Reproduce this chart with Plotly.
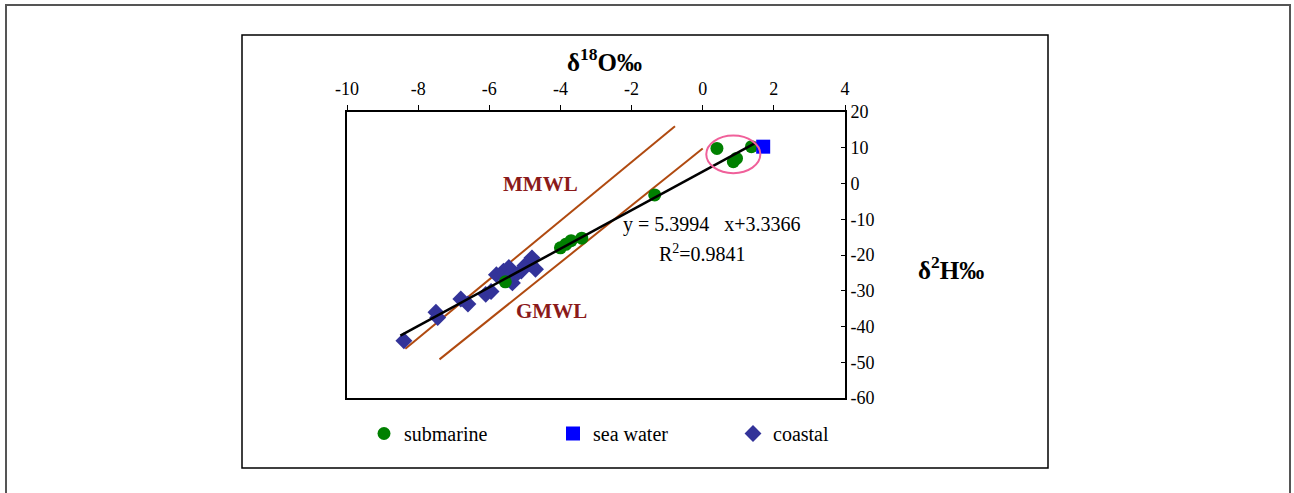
import plotly.graph_objects as go

# ---- data ----
submarine_x = [-5.55, -4.0, -3.85, -3.7, -3.4, -1.35, 0.4, 0.86, 0.95, 1.37]
submarine_y = [-27.5, -18.0, -17.0, -16.0, -15.3, -3.2, 9.8, 6.1, 7.0, 10.3]

seawater_x = [1.70]
seawater_y = [10.3]

coastal_x = [-8.4, -7.5, -7.45, -6.8, -6.6, -6.1, -5.95, -5.8, -5.6, -5.45, -5.35,
             -5.25, -5.1, -5.0, -4.85, -4.8, -4.7, -5.5]
coastal_y = [-44.0, -36.0, -37.5, -32.3, -33.7, -31.0, -30.2, -25.5, -24.5, -23.5, -27.8,
             -25.5, -24.5, -23.0, -22.5, -20.8, -24.0, -26.5]

reg_slope, reg_intercept = 5.3994, 3.3366
reg_x = [-8.5, 1.5]
reg_y = [reg_slope * v + reg_intercept for v in reg_x]

mmwl_x = [-8.36, -0.78]
mmwl_y = [-46.2, 16.0]
gmwl_x = [-7.4, 0.0]
gmwl_y = [-49.2, 9.8]

x_ticks = [-10, -8, -6, -4, -2, 0, 2, 4]
x_ticktext = ["-10", "-8", "-6", "-4", "-2", "0", "2", "4"]
y_ticks = [20, 10, 0, -10, -20, -30, -40, -50, -60]
y_ticktext = ["20", "10", "0", "-10", "-20", "-30", "-40", "-50", "-60"]

# ---- layout geometry (pixels) ----
W, H = 1294, 493
L, R, T, B = 347, 845, 112, 398


def px(x):
    return (x - L) / (R - L)


def py(y):
    return (B - y) / (B - T)


FONT = "Liberation Serif, Times New Roman, serif"
LINE_C = "#B04A10"
LBL_C = "#8B1A1A"

fig = go.Figure()

fig.add_trace(go.Scatter(x=mmwl_x, y=mmwl_y, mode="lines", line=dict(color=LINE_C, width=2),
                         showlegend=False, hoverinfo="skip"))
fig.add_trace(go.Scatter(x=gmwl_x, y=gmwl_y, mode="lines", line=dict(color=LINE_C, width=2),
                         showlegend=False, hoverinfo="skip"))

fig.add_trace(go.Scatter(x=coastal_x, y=coastal_y, mode="markers", name="coastal", legend="legend3",
                         marker=dict(symbol="diamond", size=13, color="#333399")))
fig.add_trace(go.Scatter(x=submarine_x, y=submarine_y, mode="markers", name="submarine", legend="legend",
                         marker=dict(symbol="circle", size=13, color="#008000")))
fig.add_trace(go.Scatter(x=seawater_x, y=seawater_y, mode="markers", name="sea water", legend="legend2",
                         marker=dict(symbol="square", size=14, color="#0000FF")))
fig.add_trace(go.Scatter(x=reg_x, y=reg_y, mode="lines", line=dict(color="black", width=2.5),
                         showlegend=False, hoverinfo="skip"))

# circle around the sea-water-like samples
fig.add_shape(type="circle", xref="x", yref="y", x0=0.1, x1=1.62, y0=2.9, y1=13.4,
              line=dict(color="#F0609A", width=2))

LEG_FONT = dict(family=FONT, size=20, color="black")


def leg(xpix):
    return dict(orientation="h", x=px(xpix), y=py(414), xanchor="left", yanchor="top",
                font=LEG_FONT, bgcolor="rgba(0,0,0,0)")


fig.update_layout(
    width=W, height=H,
    margin=dict(l=L, r=W - R, t=T, b=H - B, autoexpand=False),
    paper_bgcolor="white", plot_bgcolor="white",
    font=dict(family=FONT, size=18, color="black"),
    legend=leg(364), legend2=leg(553), legend3=leg(733),
    xaxis=dict(side="top", range=[-10, 4], tickvals=x_ticks, ticktext=x_ticktext,
               ticks="outside", ticklen=5, ticklabelstandoff=3,
               showline=True, linecolor="black", linewidth=2, mirror=True, showgrid=False,
               zeroline=False, tickfont=dict(family=FONT, size=18), tickcolor="black"),
    yaxis=dict(side="right", range=[-60, 20], tickvals=y_ticks, ticktext=y_ticktext,
               ticks="inside", ticklen=4,
               showline=True, linecolor="black", linewidth=2, mirror=True, showgrid=False,
               zeroline=False, tickfont=dict(family=FONT, size=18), tickcolor="black"),
    showlegend=True,
)

annots = [
    dict(x=px(604), y=py(60), text="<b>δ<sup>18</sup>O‰</b>", size=25, color="black"),
    dict(x=px(951), y=py(268), text="<b>δ<sup>2</sup>H‰</b>", size=25, color="black"),
    dict(x=px(540), y=py(184), text="<b>MMWL</b>", size=21, color=LBL_C),
    dict(x=px(551), y=py(311), text="<b>GMWL</b>", size=21, color=LBL_C),
    dict(x=px(712), y=py(224), text="y = 5.3994   x+3.3366", size=20, color="black"),
    dict(x=px(702), y=py(253), text="R<sup>2</sup>=0.9841", size=20, color="black"),
]
for a in annots:
    fig.add_annotation(x=a["x"], y=a["y"], xref="paper", yref="paper", text=a["text"],
                       showarrow=False, font=dict(family=FONT, size=a["size"], color=a["color"]),
                       xanchor="center", yanchor="middle")

# frames
fig.add_shape(type="rect", xref="paper", yref="paper", x0=px(242), x1=px(1048), y0=py(468), y1=py(35),
              line=dict(color="black", width=1.5), layer="below")
fig.add_shape(type="rect", xref="paper", yref="paper", x0=px(6), x1=px(1290), y0=py(500), y1=py(5),
              line=dict(color="#555555", width=2), layer="below")

fig.write_html("out.html")
